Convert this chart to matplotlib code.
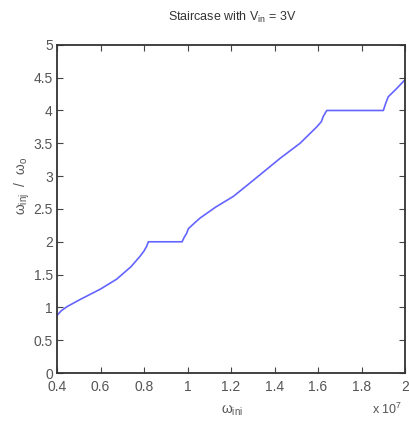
import matplotlib
matplotlib.use("Agg")
import matplotlib.pyplot as plt

plt.rcParams['font.family'] = ['Liberation Sans', 'DejaVu Sans']
plt.rcParams['mathtext.fontset'] = 'custom'
plt.rcParams['mathtext.rm'] = 'Liberation Sans'
plt.rcParams['mathtext.it'] = 'Liberation Sans'

# omega_ini in units of 1e7
w_ini = [0.40, 0.42, 0.445, 0.50, 0.60, 0.674, 0.74, 0.782, 0.80, 0.812, 0.82,
         0.90, 0.975, 0.985, 0.996, 1.004, 1.03, 1.057, 1.13, 1.21, 1.27,
         1.333, 1.425, 1.517, 1.594, 1.615, 1.624, 1.64, 1.75, 1.85, 1.90,
         1.912, 1.923, 1.96, 2.00]
ratio = [0.88, 0.95, 1.01, 1.11, 1.28, 1.43, 1.62, 1.78, 1.86, 1.93, 2.00,
         2.00, 2.00, 2.07, 2.13, 2.20, 2.28, 2.36, 2.53, 2.69, 2.85,
         3.02, 3.27, 3.50, 3.75, 3.83, 3.91, 4.00, 4.00, 4.00, 4.00,
         4.12, 4.21, 4.33, 4.47]

xticks = [0.4, 0.6, 0.8, 1.0, 1.2, 1.4, 1.6, 1.8, 2.0]
xticklabels = ['0.4', '0.6', '0.8', '1', '1.2', '1.4', '1.6', '1.8', '2']
yticks = [0, 0.5, 1, 1.5, 2, 2.5, 3, 3.5, 4, 4.5, 5]
yticklabels = ['0', '0.5', '1', '1.5', '2', '2.5', '3', '3.5', '4', '4.5', '5']

fig = plt.figure(figsize=(4.10, 4.23), dpi=100)
ax = fig.add_axes([0.139, 0.118, 0.849, 0.776])
ax.plot(w_ini, ratio, color='#6464ff', linewidth=1.2)
ax.set_xlim(0.4, 2.0)
ax.set_ylim(0, 5)
ax.set_xticks(xticks)
ax.set_xticklabels(xticklabels)
ax.set_yticks(yticks)
ax.set_yticklabels(yticklabels)
ax.tick_params(direction='in', top=True, right=True, length=4, width=0.8,
               labelsize=10, labelcolor='#555555', color='#444444')
ax.tick_params(axis='x', pad=5)
ax.tick_params(axis='y', pad=3)
for s in ax.spines.values():
    s.set_color('#333333')
    s.set_linewidth(1.3)

fig.text(0.566, 0.958, 'Staircase with V$_{in}$ = 3V', ha='center', va='center',
         fontsize=9, color='#333333')
fig.text(0.055, 0.56, 'ω$_{inj}$  /  ω$_{o}$', rotation=90, ha='center', va='center',
         fontsize=10, color='#555555')
fig.text(0.565, 0.03, 'ω$_{ini}$', ha='center', va='center', fontsize=10, color='#555555')
fig.text(0.945, 0.033, 'x 10$^{7}$', ha='center', va='center', fontsize=9, color='#555555')

fig.savefig('out.png', dpi=100)
